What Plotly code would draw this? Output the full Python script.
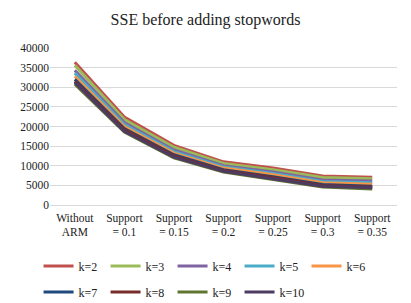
import plotly.graph_objects as go

categories = ["Without<br>ARM", "Support<br>= 0.1", "Support<br>= 0.15", "Support<br>= 0.2",
              "Support<br>= 0.25", "Support<br>= 0.3", "Support<br>= 0.35"]
series_names = ["k=2", "k=3", "k=4", "k=5", "k=6", "k=7", "k=8", "k=9", "k=10"]
k2 = [36400, 22400, 15200, 11000, 9400, 7400, 7100]
k3 = [35600, 21800, 14700, 10600, 9000, 7000, 6700]
k4 = [34300, 21000, 14000, 10000, 8400, 6400, 6100]
k5 = [33600, 20500, 13600, 9700, 8000, 6000, 5700]
k6 = [32800, 20000, 13200, 9400, 7700, 5700, 5300]
k7 = [32000, 19500, 12800, 9000, 7200, 5200, 4800]
k8 = [31500, 19200, 12500, 8800, 7000, 5000, 4600]
k9 = [30800, 18600, 12000, 8400, 6500, 4600, 4100]
k10 = [31200, 18800, 12200, 8600, 6700, 4800, 4400]
values = [k2, k3, k4, k5, k6, k7, k8, k9, k10]
colors = ["#C0504D", "#9BBB59", "#8064A2", "#4BACC6", "#F79646",
          "#1F497D", "#772C2A", "#5F7530", "#4D3B62"]
y_ticks = [0, 5000, 10000, 15000, 20000, 25000, 30000, 35000, 40000]
y_tick_labels = [str(v) for v in y_ticks]

font_fam = "Liberation Serif, Times New Roman, serif"

fig = go.Figure()
for i, (name, vals, col) in enumerate(zip(series_names, values, colors)):
    fig.add_trace(go.Scatter(
        x=categories, y=vals, name=name, mode="lines",
        line=dict(color=col, width=3),
        legend="legend" if i < 5 else "legend2",
    ))

legend_common = dict(orientation="h", xanchor="left", yanchor="middle",
                      font=dict(family=font_fam, size=12, color="#222"),
                      entrywidth=22, entrywidthmode="pixels",
                      bgcolor="rgba(0,0,0,0)", itemwidth=30)

fig.update_layout(
    width=411, height=303,
    margin=dict(l=50, r=14, t=48, b=98, autoexpand=False),
    paper_bgcolor="white", plot_bgcolor="white",
    title=dict(text="SSE before adding stopwords", x=0.5, xanchor="center",
               y=1 - 19 / 303, yanchor="middle",
               font=dict(family=font_fam, size=16, color="#222")),
    xaxis=dict(showgrid=False, zeroline=False, showline=False,
               tickfont=dict(family=font_fam, size=11.5, color="#222"),
               ticks="", range=[-0.5, 6.5], ticklabelstandoff=4,
               automargin=False),
    yaxis=dict(range=[0, 40000], tickvals=y_ticks, ticktext=y_tick_labels,
               showgrid=True, automargin=False,
               gridcolor="#D9D9D9", gridwidth=1, zeroline=True,
               zerolinecolor="#D9D9D9", zerolinewidth=1,
               tickfont=dict(family=font_fam, size=11.5, color="#222"),
               ticks="", ticklen=6, tickcolor="white", showline=False),
    showlegend=True,
    legend=dict(x=-0.033, y=(205 - 266) / 157, **legend_common),
    legend2=dict(x=-0.033, y=(205 - 292) / 157, **legend_common),
)

fig.write_html("out.html", config={"displayModeBar": False},
               post_script="document.body.style.margin='0';document.body.style.overflow='hidden';")
